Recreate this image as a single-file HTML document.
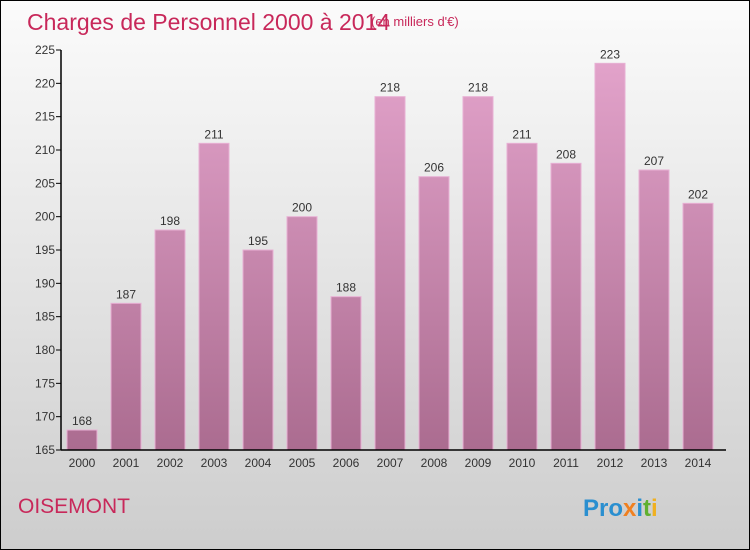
<!DOCTYPE html>
<html><head><meta charset="utf-8"><style>
body{margin:0;}
#c{position:relative;width:748px;height:548px;border:1px solid #000;background:linear-gradient(#fbfbfb,#cdcdcd);overflow:hidden;font-family:"Liberation Sans",sans-serif;}
</style></head><body>
<div id="c">
<svg id="s" width="748" height="548" xmlns="http://www.w3.org/2000/svg">
<defs><linearGradient id="bg" gradientUnits="userSpaceOnUse" x1="0" y1="49" x2="0" y2="449"><stop offset="0" stop-color="#e4a4cc"/><stop offset="1" stop-color="#ab6c90"/></linearGradient></defs>
<text x="26" y="29" font-size="23" fill="#c8285a">Charges de Personnel 2000 à 2014</text>
<text x="370" y="25" font-size="13" fill="#c8285a">(en milliers d'€)</text>
<text x="17" y="512" font-size="21" fill="#c8285a">OISEMONT</text>
<text x="582" y="515" font-size="24" font-weight="bold"><tspan fill="#2a8fd0">Pro</tspan><tspan fill="#f08020">x</tspan><tspan fill="#2a8fd0">i</tspan><tspan fill="#60b030">t</tspan><tspan fill="#f0b020">i</tspan></text>
<g id="plot"></g>
</svg>
</div>
<script>
const categories=["2000","2001","2002","2003","2004","2005","2006","2007","2008","2009","2010","2011","2012","2013","2014"];
const values=[168,187,198,211,195,200,188,218,206,218,211,208,223,207,202];
const ticks=[165,170,175,180,185,190,195,200,205,210,215,220,225];
const NS="http://www.w3.org/2000/svg";
const g=document.getElementById('plot');
const y=v=>449-(v-165)*400/60;
const x=i=>81+i*44;
function mk(t,a){const e=document.createElementNS(NS,t);for(const k in a)e.setAttribute(k,a[k]);g.appendChild(e);return e;}
ticks.forEach(t=>{
 const l=mk('line',{x1:55,x2:60,y1:y(t),y2:y(t),stroke:'#000'});
 
 
 const tx=mk('text',{x:54,y:y(t)+4,'text-anchor':'end','font-size':12,fill:'#333'});
 tx.textContent=t;
 
 
});
values.forEach((v,i)=>{
 const r=mk('rect',{x:x(i)-15,y:y(v),width:30,height:449-y(v),fill:'url(#bg)',stroke:'#e8b0d4','stroke-width':1});
 
 
 const t=mk('text',{x:x(i),y:y(v)-5,'text-anchor':'middle','font-size':12,fill:'#333'});
 t.textContent=v;
 
 
 const c=mk('text',{x:x(i),y:466,'text-anchor':'middle','font-size':12,fill:'#333'});
 c.textContent=categories[i];
 
 
});
const ya=mk('line',{x1:60,x2:60,y1:49,y2:449,stroke:'#000','stroke-width':1.5});


const xa=mk('line',{x1:60,x2:725,y1:449,y2:449,stroke:'#000','stroke-width':1.5});


</script>
</body></html>
